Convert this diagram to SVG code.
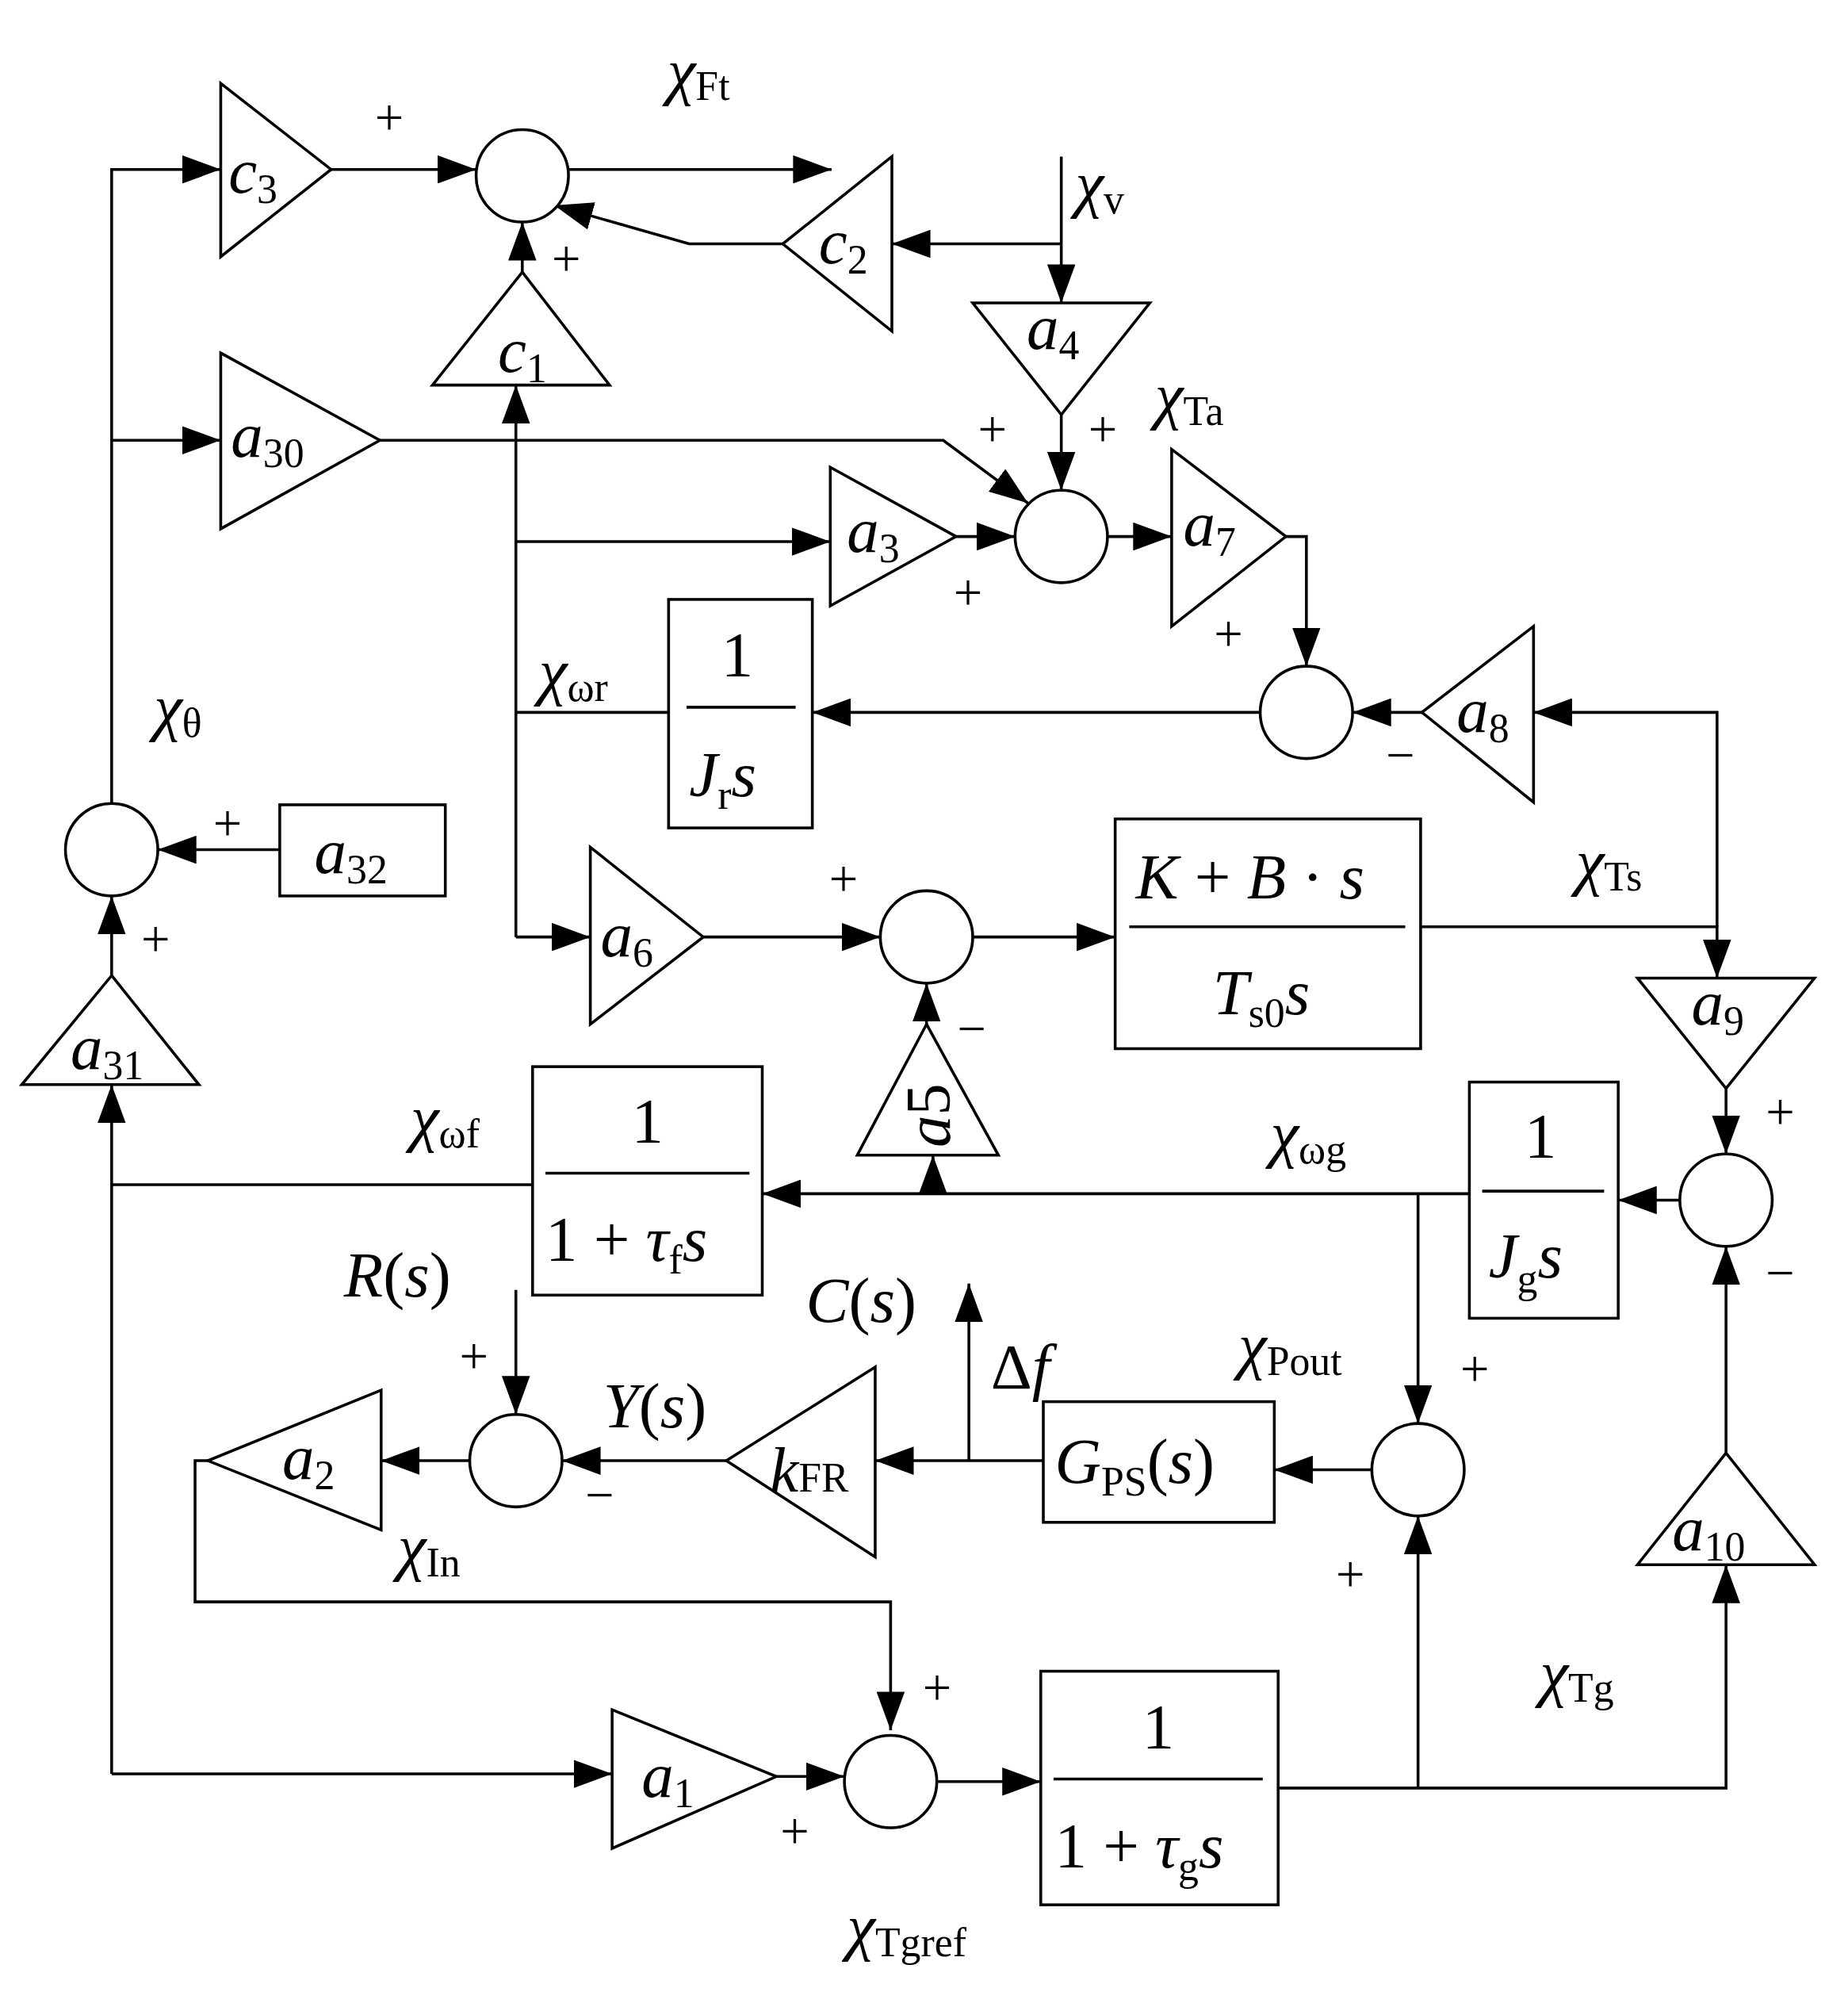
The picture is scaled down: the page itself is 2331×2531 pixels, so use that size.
<svg xmlns="http://www.w3.org/2000/svg" width="2331" height="2531" viewBox="0 0 2331 2531">
<defs>
<marker id="ar" markerUnits="userSpaceOnUse" markerWidth="30" markerHeight="22" viewBox="0 0 30 22" refX="30" refY="11" orient="auto"><path d="M0,0 L30,11 L0,22 Z" fill="#000"/></marker>
<style>
.s{fill:none;stroke:#000;stroke-width:2.2}
.b{fill:#fff;stroke:#000;stroke-width:2.2}
.c{fill:none;stroke:#000;stroke-width:2.2;marker-end:url(#ar)}
text{font-family:"Liberation Serif",serif;font-size:50px;fill:#000}
.i{font-style:italic}
.sub{font-size:32px;font-style:normal}
.sg{font-size:40px}
</style>
</defs>
<rect width="2331" height="2531" fill="#fff"/>
<g transform="scale(1.6187)">
<g id="connectors">
<path class="c" d="M87,626 V132 H172"/>
<path class="c" d="M87,343 H172"/>
<path class="c" d="M258,132 H371"/>
<path class="c" d="M443,132 H648"/>
<path class="c" d="M827,122 V236"/>
<path class="c" d="M827,190 H695"/>
<path class="c" d="M610,190 H537 L432,160"/>
<path class="c" d="M407,212 V173"/>
<path class="c" d="M827,323 V382"/>
<path class="c" d="M296,343 H735 L801,392"/>
<path class="c" d="M402,730 V300"/>
<path class="c" d="M402,422 H647"/>
<path class="s" d="M521,555 H402"/>
<path class="c" d="M402,730 H460"/>
<path class="c" d="M745,418 H791"/>
<path class="c" d="M863,418 H913"/>
<path class="c" d="M1002,418 H1018 V519"/>
<path class="c" d="M1108,555 H1054"/>
<path class="c" d="M982,555 H633"/>
<path class="c" d="M1107,722 H1338 V762"/>
<path class="c" d="M1338,722 V555 H1195"/>
<path class="c" d="M548,730 H686"/>
<path class="c" d="M758,730 H869"/>
<path class="c" d="M1345,848 V899"/>
<path class="c" d="M1309,935 H1261"/>
<path class="c" d="M1145,930 H594"/>
<path class="c" d="M1105,930 V1109"/>
<path class="c" d="M727,930 V900"/>
<path class="c" d="M722,798 V766"/>
<path class="s" d="M415,923 H87"/>
<path class="c" d="M87,1382 V845"/>
<path class="c" d="M87,1382 H477"/>
<path class="c" d="M87,760 V698"/>
<path class="c" d="M218,662 H123"/>
<path class="c" d="M402,1005 V1102"/>
<path class="c" d="M566,1138 H438"/>
<path class="c" d="M366,1138 H297"/>
<path class="c" d="M162,1138 H152 V1248 H694 V1348"/>
<path class="c" d="M813,1138 H682"/>
<path class="c" d="M755,1138 V1000"/>
<path class="c" d="M1069,1145 H993"/>
<path class="c" d="M605,1384 H658"/>
<path class="c" d="M730,1388 H811"/>
<path class="c" d="M996,1393 H1345 V1219"/>
<path class="c" d="M1105,1393 V1181"/>
<path class="c" d="M1345,1132 V971"/>
</g>
<g id="sums">
<circle class="b" cx="407" cy="137" r="36"/>
<circle class="b" cx="827" cy="418" r="36"/>
<circle class="b" cx="1018" cy="555" r="36"/>
<circle class="b" cx="87" cy="662" r="36"/>
<circle class="b" cx="722" cy="730" r="36"/>
<circle class="b" cx="1345" cy="935" r="36"/>
<circle class="b" cx="402" cy="1138" r="36"/>
<circle class="b" cx="1105" cy="1145" r="36"/>
<circle class="b" cx="694" cy="1388" r="36"/>
</g>
<g id="c3"><path class="b" d="M172,65 L258,132 L172,200 Z"/><text x="178" y="150" class="i">c<tspan class="sub" dy="8">3</tspan></text></g>
<g id="c2"><path class="b" d="M695,122 L610,190 L695,258 Z"/><text x="638" y="205" class="i">c<tspan class="sub" dy="8">2</tspan></text></g>
<g id="c1"><path class="b" d="M407,212 L475,300 L337,300 Z"/><text x="388" y="290" class="i">c<tspan class="sub" dy="8">1</tspan></text></g>
<g id="a4"><path class="b" d="M758,236 L896,236 L827,323 Z"/><text x="800" y="272" class="i">a<tspan class="sub" dy="8">4</tspan></text></g>
<g id="a30"><path class="b" d="M172,275 L296,343 L172,412 Z"/><text x="180" y="356" class="i">a<tspan class="sub" dy="8">30</tspan></text></g>
<g id="a3"><path class="b" d="M647,364 L745,418 L647,472 Z"/><text x="660" y="430" class="i">a<tspan class="sub" dy="8">3</tspan></text></g>
<g id="a7"><path class="b" d="M913,350 L1002,418 L913,488 Z"/><text x="922" y="425" class="i">a<tspan class="sub" dy="8">7</tspan></text></g>
<g id="a8"><path class="b" d="M1195,488 L1108,555 L1195,625 Z"/><text x="1135" y="570" class="i">a<tspan class="sub" dy="8">8</tspan></text></g>
<g id="a32"><rect class="b" x="218" y="627" width="129" height="71"/><text x="245" y="680" class="i">a<tspan class="sub" dy="8">32</tspan></text></g>
<g id="a31"><path class="b" d="M87,760 L155,845 L17,845 Z"/><text x="55" y="833" class="i">a<tspan class="sub" dy="8">31</tspan></text></g>
<g id="a6"><path class="b" d="M460,660 L548,730 L460,798 Z"/><text x="468" y="745" class="i">a<tspan class="sub" dy="8">6</tspan></text></g>
<g id="a9"><path class="b" d="M1276,762 L1414,762 L1345,848 Z"/><text x="1318" y="798" class="i">a<tspan class="sub" dy="8">9</tspan></text></g>
<g id="a5"><path class="b" d="M722,798 L778,900 L668,900 Z"/><text transform="translate(740,894) rotate(-90)" class="i">a<tspan style="font-style:normal">5</tspan></text></g>
<g id="a10"><path class="b" d="M1345,1132 L1414,1219 L1276,1219 Z"/><text x="1303" y="1208" class="i">a<tspan class="sub" dy="8">10</tspan></text></g>
<g id="a2"><path class="b" d="M297,1083 L162,1138 L297,1192 Z"/><text x="220" y="1152" class="i">a<tspan class="sub" dy="8">2</tspan></text></g>
<g id="kFR"><path class="b" d="M682,1065 L566,1138 L682,1213 Z"/><text x="600" y="1162" class="i">k<tspan class="sub" dy="0">FR</tspan></text></g>
<g id="a1"><path class="b" d="M477,1332 L605,1384 L477,1440 Z"/><text x="500" y="1400" class="i">a<tspan class="sub" dy="8">1</tspan></text></g>
<g id="Jr"><rect class="b" x="521" y="467" width="112" height="178"/><line class="s" x1="535" y1="551" x2="620" y2="551"/><text x="562" y="527">1</text><text x="537" y="620" class="i">J<tspan class="sub" dy="10">r</tspan><tspan dy="-10">s</tspan></text></g>
<g id="Ts"><rect class="b" x="869" y="638" width="238" height="179"/><line class="s" x1="880" y1="722" x2="1095" y2="722"/><text x="885" y="700"><tspan class="i">K</tspan> + <tspan class="i">B</tspan> · <tspan class="i">s</tspan></text><text x="945" y="790" class="i">T<tspan class="sub" dy="10">s0</tspan><tspan dy="-10">s</tspan></text></g>
<g id="Jg"><rect class="b" x="1145" y="843" width="116" height="184"/><line class="s" x1="1155" y1="928" x2="1250" y2="928"/><text x="1188" y="902">1</text><text x="1160" y="995" class="i">J<tspan class="sub" dy="12">g</tspan><tspan dy="-12">s</tspan></text></g>
<g id="tauf"><rect class="b" x="415" y="831" width="179" height="178"/><line class="s" x1="425" y1="914" x2="584" y2="914"/><text x="492" y="890">1</text><text x="425" y="982">1 + <tspan class="i">τ</tspan><tspan class="sub" dy="10">f</tspan><tspan class="i" dy="-10">s</tspan></text></g>
<g id="GPS"><rect class="b" x="813" y="1092" width="180" height="94"/><text x="822" y="1155" class="i">G<tspan class="sub" dy="10">PS</tspan><tspan dy="-10" style="font-style:normal">(</tspan>s<tspan style="font-style:normal">)</tspan></text></g>
<g id="taug"><rect class="b" x="811" y="1302" width="185" height="182"/><line class="s" x1="821" y1="1386" x2="984" y2="1386"/><text x="890" y="1362">1</text><text x="822" y="1455">1 + <tspan class="i">τ</tspan><tspan class="sub" dy="10">g</tspan><tspan class="i" dy="-10">s</tspan></text></g>
<g id="labels">
<text x="520" y="72" class="i">χ<tspan class="sub" dy="6">Ft</tspan></text>
<text x="838" y="160" class="i">χ<tspan class="sub" dy="6">v</tspan></text>
<text x="900" y="325" class="i">χ<tspan class="sub" dy="6">Ta</tspan></text>
<text x="420" y="540" class="i">χ<tspan class="sub" dy="6">ωr</tspan></text>
<text x="120" y="568" class="i">χ<tspan class="sub" dy="6">θ</tspan></text>
<text x="1228" y="688" class="i">χ<tspan class="sub" dy="6">Ts</tspan></text>
<text x="320" y="888" class="i">χ<tspan class="sub" dy="6">ωf</tspan></text>
<text x="990" y="900" class="i">χ<tspan class="sub" dy="6">ωg</tspan></text>
<text x="965" y="1065" class="i">χ<tspan class="sub" dy="6">Pout</tspan></text>
<text x="310" y="1222" class="i">χ<tspan class="sub" dy="6">In</tspan></text>
<text x="1200" y="1320" class="i">χ<tspan class="sub" dy="6">Tg</tspan></text>
<text x="660" y="1518" class="i">χ<tspan class="sub" dy="6">Tgref</tspan></text>
<text x="268" y="1010"><tspan class="i">R</tspan>(<tspan class="i">s</tspan>)</text>
<text x="628" y="1030"><tspan class="i">C</tspan>(<tspan class="i">s</tspan>)</text>
<text x="772" y="1082">Δ<tspan class="i">f</tspan></text>
<text x="470" y="1112"><tspan class="i">Y</tspan>(<tspan class="i">s</tspan>)</text>
<text class="sg" x="292" y="105">+</text>
<text class="sg" x="430" y="215">+</text>
<text class="sg" x="762" y="348">+</text>
<text class="sg" x="848" y="348">+</text>
<text class="sg" x="743" y="475">+</text>
<text class="sg" x="946" y="507">+</text>
<text class="sg" x="1080" y="602">−</text>
<text class="sg" x="166" y="655">+</text>
<text class="sg" x="110" y="745">+</text>
<text class="sg" x="646" y="698">+</text>
<text class="sg" x="746" y="815">−</text>
<text class="sg" x="1376" y="880">+</text>
<text class="sg" x="1376" y="1005">−</text>
<text class="sg" x="358" y="1070">+</text>
<text class="sg" x="456" y="1178">−</text>
<text class="sg" x="1138" y="1080">+</text>
<text class="sg" x="1041" y="1240">+</text>
<text class="sg" x="719" y="1328">+</text>
<text class="sg" x="608" y="1440">+</text>
</g>
</g>
</svg>
